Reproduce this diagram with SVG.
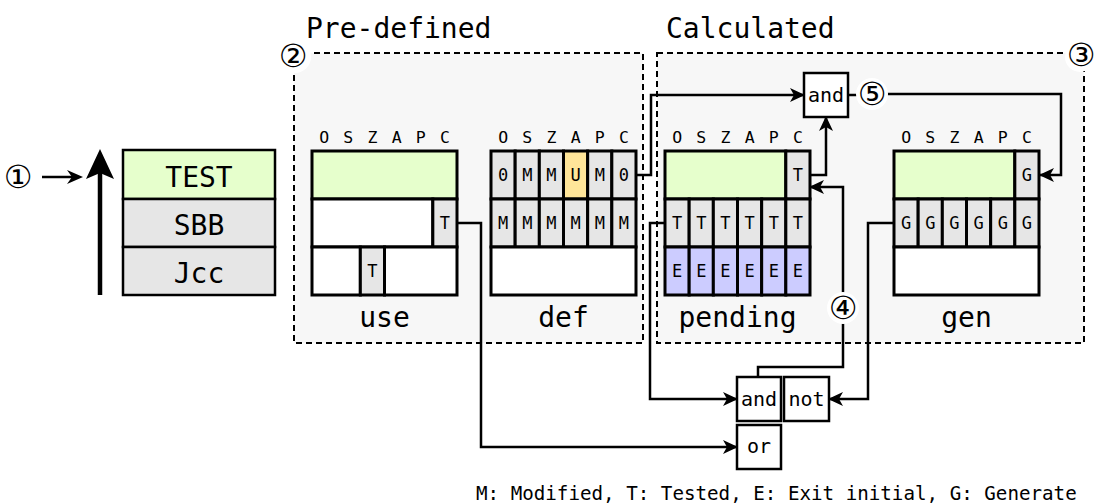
<svg xmlns="http://www.w3.org/2000/svg" width="1095" height="504" viewBox="0 0 1095 504">
  <defs>
    <style>
      .mono { font-family: "DejaVu Sans Mono", "Liberation Mono", monospace; fill: #000; }
      .num { font-family: "DejaVu Sans", "Noto Sans", sans-serif; font-size: 32px; fill: #000; text-anchor: middle; dominant-baseline: central; }
      .region { fill: #f7f7f7; stroke: #000; stroke-width: 2; stroke-dasharray: 6 4; }
      .title { font-size: 28px; }
      .label { font-size: 28px; text-anchor: middle; }
      .flags { font-size: 16.5px; text-anchor: middle; }
      .cell-txt { font-size: 17px; text-anchor: middle; }
      .cell { stroke: #000; stroke-width: 3; }
      .gray { fill: #e6e6e6; }
      .green { fill: #e6ffcc; }
      .yellow { fill: #ffe599; }
      .purple { fill: #ccccff; }
      .white { fill: #ffffff; }
      .instr { stroke: #000; stroke-width: 2.5; }
      .gate { fill: #fff; stroke: #000; stroke-width: 2.5; }
      .gate-txt { font-size: 20px; text-anchor: middle; }
      .wire { fill: none; stroke: #000; stroke-width: 2.5; marker-end: url(#head); }
      .wire-plain { fill: none; stroke: #000; stroke-width: 2.5; }
      .halo { fill: #fff; }
    </style>
    <marker id="head" markerWidth="15" markerHeight="14" refX="14" refY="7" orient="auto" markerUnits="userSpaceOnUse">
      <path d="M0,0 L15,7 L0,14 L4,7 z" fill="#000"/>
    </marker>
  </defs>

  <rect width="1095" height="504" fill="#fff"/>

  <!-- region backgrounds -->
  <g id="region-predefined">
    <rect class="region" x="294" y="53" width="349" height="290"/>
    <text class="mono title" x="306" y="38">Pre-defined</text>
    <circle class="halo" cx="295" cy="57" r="16"/>
    <text class="num" x="293" y="56">②</text>
  </g>
  <g id="region-calculated">
    <rect class="region" x="657" y="53" width="427" height="290"/>
    <text class="mono title" x="666" y="38">Calculated</text>
    <circle class="halo" cx="1080" cy="57" r="15"/>
    <text class="num" x="1081" y="55">③</text>
  </g>

  <!-- instruction sequence -->
  <g id="instructions">
    <text class="num" x="18" y="177">①</text>
    <line x1="42" y1="177" x2="72" y2="177" stroke="#000" stroke-width="2.5"/>
    <path d="M83,177 L67,170 L72,177 L67,184 z" fill="#000"/>
    <line x1="100" y1="295" x2="100" y2="172" stroke="#000" stroke-width="4.5"/>
    <path d="M100,149 L114,179 L100,173 L86,179 z" fill="#000"/>
    <rect class="instr green" x="123" y="150" width="152" height="49"/>
    <rect class="instr gray" x="123" y="199" width="152" height="48"/>
    <rect class="instr gray" x="123" y="247" width="152" height="48"/>
    <text class="mono label" x="199" y="187">TEST</text>
    <text class="mono label" x="199" y="235">SBB</text>
    <text class="mono label" x="199" y="283">Jcc</text>
  </g>

  <!-- use flags -->
  <g id="use">
    <text class="mono flags" x="324.1 348.25 372.4 396.6 420.75 444.9" y="143">OSZAPC</text>
    <rect class="cell green" x="312" y="151" width="145" height="48"/>
    <rect class="cell white" x="312" y="199" width="120.83" height="48"/>
    <rect class="cell gray" x="432.83" y="199" width="24.17" height="48"/>
    <rect class="cell white" x="312" y="247" width="48.33" height="48"/>
    <rect class="cell gray" x="360.33" y="247" width="24.17" height="48"/>
    <rect class="cell white" x="384.5" y="247" width="72.5" height="48"/>
    <text class="mono cell-txt" x="444.9" y="229">T</text>
    <text class="mono cell-txt" x="372.4" y="277">T</text>
    <text class="mono label" x="384.5" y="327">use</text>
  </g>

  <!-- def flags -->
  <g id="def">
    <text class="mono flags" x="503.1 527.25 551.4 575.6 599.75 623.9" y="143">OSZAPC</text>
    <rect class="cell gray" x="491" y="151" width="24.17" height="48"/>
    <rect class="cell gray" x="515.17" y="151" width="24.17" height="48"/>
    <rect class="cell gray" x="539.33" y="151" width="24.17" height="48"/>
    <rect class="cell yellow" x="563.5" y="151" width="24.17" height="48"/>
    <rect class="cell gray" x="587.67" y="151" width="24.17" height="48"/>
    <rect class="cell gray" x="611.83" y="151" width="24.17" height="48"/>
    <rect class="cell gray" x="491" y="199" width="24.17" height="48"/>
    <rect class="cell gray" x="515.17" y="199" width="24.17" height="48"/>
    <rect class="cell gray" x="539.33" y="199" width="24.17" height="48"/>
    <rect class="cell gray" x="563.5" y="199" width="24.17" height="48"/>
    <rect class="cell gray" x="587.67" y="199" width="24.17" height="48"/>
    <rect class="cell gray" x="611.83" y="199" width="24.17" height="48"/>
    <rect class="cell white" x="491" y="247" width="145" height="48"/>
    <text class="mono cell-txt" x="503.1 527.25 551.4 575.6 599.75 623.9" y="181">0MMUM0</text>
    <text class="mono cell-txt" x="503.1 527.25 551.4 575.6 599.75 623.9" y="229">MMMMMM</text>
    <text class="mono label" x="563.5" y="327">def</text>
  </g>

  <!-- pending flags -->
  <g id="pending">
    <text class="mono flags" x="677.1 701.25 725.4 749.6 773.75 797.9" y="143">OSZAPC</text>
    <rect class="cell green" x="665" y="151" width="120.83" height="48"/>
    <rect class="cell gray" x="785.83" y="151" width="24.17" height="48"/>
    <rect class="cell gray" x="665" y="199" width="24.17" height="48"/>
    <rect class="cell gray" x="689.17" y="199" width="24.17" height="48"/>
    <rect class="cell gray" x="713.33" y="199" width="24.17" height="48"/>
    <rect class="cell gray" x="737.5" y="199" width="24.17" height="48"/>
    <rect class="cell gray" x="761.67" y="199" width="24.17" height="48"/>
    <rect class="cell gray" x="785.83" y="199" width="24.17" height="48"/>
    <rect class="cell purple" x="665" y="247" width="24.17" height="48"/>
    <rect class="cell purple" x="689.17" y="247" width="24.17" height="48"/>
    <rect class="cell purple" x="713.33" y="247" width="24.17" height="48"/>
    <rect class="cell purple" x="737.5" y="247" width="24.17" height="48"/>
    <rect class="cell purple" x="761.67" y="247" width="24.17" height="48"/>
    <rect class="cell purple" x="785.83" y="247" width="24.17" height="48"/>
    <text class="mono cell-txt" x="797.9" y="181">T</text>
    <text class="mono cell-txt" x="677.1 701.25 725.4 749.6 773.75 797.9" y="229">TTTTTT</text>
    <text class="mono cell-txt" x="677.1 701.25 725.4 749.6 773.75 797.9" y="277">EEEEEE</text>
    <text class="mono label" x="737.5" y="327">pending</text>
  </g>

  <!-- gen flags -->
  <g id="gen">
    <text class="mono flags" x="906.1 930.25 954.4 978.6 1002.75 1026.9" y="143">OSZAPC</text>
    <rect class="cell green" x="894" y="151" width="120.83" height="48"/>
    <rect class="cell gray" x="1014.83" y="151" width="24.17" height="48"/>
    <rect class="cell gray" x="894" y="199" width="24.17" height="48"/>
    <rect class="cell gray" x="918.17" y="199" width="24.17" height="48"/>
    <rect class="cell gray" x="942.33" y="199" width="24.17" height="48"/>
    <rect class="cell gray" x="966.5" y="199" width="24.17" height="48"/>
    <rect class="cell gray" x="990.67" y="199" width="24.17" height="48"/>
    <rect class="cell gray" x="1014.83" y="199" width="24.17" height="48"/>
    <rect class="cell white" x="894" y="247" width="145" height="48"/>
    <text class="mono cell-txt" x="1026.9" y="181">G</text>
    <text class="mono cell-txt" x="906.1 930.25 954.4 978.6 1002.75 1026.9" y="229">GGGGGG</text>
    <text class="mono label" x="966.5" y="327">gen</text>
  </g>

  <!-- connectors -->
  <g id="connectors">
    <path class="wire" d="M636,175 H651 V95 H804"/>
    <path class="wire" d="M810,175 H826 V117"/>
    <path class="wire" d="M758,377 V367 H843 V187 H810"/>
    <path class="wire" d="M665,223 H650 V399 H737"/>
    <path class="wire" d="M457,223 H481 V447 H737"/>
    <path class="wire" d="M894,223 H868 V399 H829"/>
    <path class="wire-plain" d="M848,95 H860"/>
    <path class="wire" d="M884,94 H1061 V175 H1040"/>
  </g>

  <!-- step markers on the wires -->
  <g id="step-4">
    <circle class="halo" cx="843" cy="308" r="16"/>
    <text class="num" x="843" y="308">④</text>
  </g>
  <g id="step-5">
    <circle class="halo" cx="872" cy="94" r="16"/>
    <text class="num" x="872" y="94">⑤</text>
  </g>

  <!-- gates -->
  <g id="gate-and-top">
    <rect class="gate" x="804" y="73" width="44" height="44"/>
    <text class="mono gate-txt" x="826" y="102">and</text>
  </g>
  <g id="gate-and-bottom">
    <rect class="gate" x="737" y="377" width="44" height="44"/>
    <text class="mono gate-txt" x="759" y="406">and</text>
  </g>
  <g id="gate-not">
    <rect class="gate" x="784" y="377" width="45" height="44"/>
    <text class="mono gate-txt" x="806.5" y="406">not</text>
  </g>
  <g id="gate-or">
    <rect class="gate" x="737" y="425" width="44" height="44"/>
    <text class="mono gate-txt" x="759" y="453">or</text>
  </g>

  <g id="legend">
    <text class="mono" x="476" y="500" font-size="19.2">M: Modified, T: Tested, E: Exit initial, G: Generate</text>
  </g>
</svg>
